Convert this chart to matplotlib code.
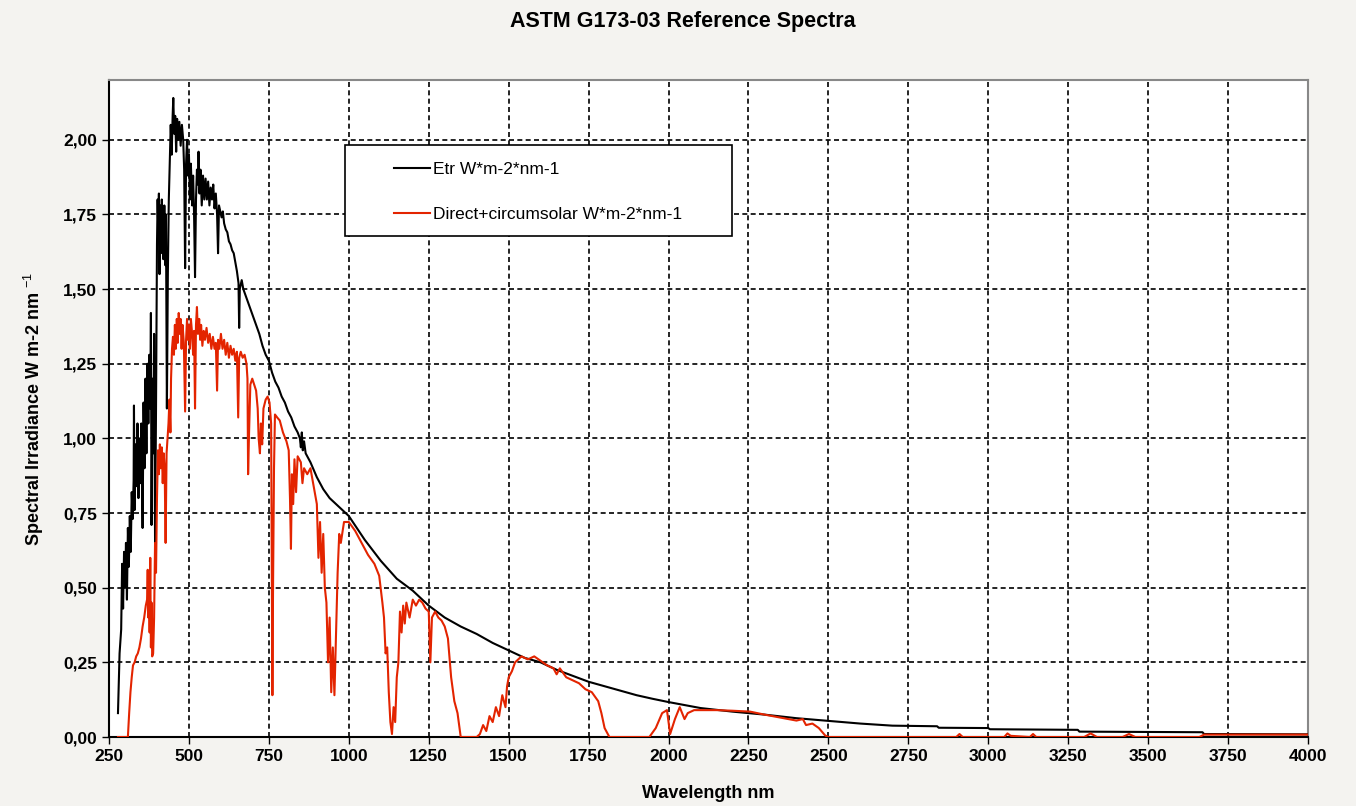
import numpy as np
import matplotlib
matplotlib.use('Agg')
import matplotlib.pyplot as plt
from matplotlib.patches import Rectangle

plt.rcParams['font.family'] = ['Liberation Sans', 'DejaVu Sans']
plt.rcParams['mathtext.fontset'] = 'custom'
plt.rcParams['mathtext.rm'] = 'Liberation Sans'
plt.rcParams['mathtext.bf'] = 'Liberation Sans:bold'

# Etr (extraterrestrial) spectrum
etr_wl = [278, 283, 288, 291, 294, 297, 300, 303, 306, 309, 312, 315, 318, 321, 324,
          327, 328, 330, 333, 336, 339, 342, 345, 348, 351, 355, 358, 361, 364, 367,
          370, 373, 376, 379, 381, 383, 386, 389, 391, 394, 397, 400, 402, 404, 406,
          408, 410, 412, 415, 418, 420, 423, 426, 428, 431, 434, 437, 440, 443, 446,
          449, 451, 454, 457, 460, 463, 466, 470, 474, 478, 482, 485, 488, 491, 494,
          497, 500, 503, 506, 510, 513, 516, 519, 522, 525, 528, 530, 533, 536, 540,
          544, 548, 552, 556, 560, 564, 568, 572, 576, 580, 584, 588, 591, 594, 598,
          602, 606, 610, 615, 620, 625, 630, 635, 640, 645, 650, 655, 657, 659, 665,
          670, 680, 690, 700, 710, 720, 730, 740, 750, 760, 770, 780, 790, 800, 810,
          820, 830, 840, 847, 850, 853, 856, 860, 865, 870, 880, 900, 920, 940, 960,
          980, 1000, 1050, 1100, 1150, 1200, 1250, 1300, 1350, 1400, 1450, 1500,
          1550, 1600, 1650, 1700, 1750, 1800, 1850, 1900, 1950, 2000, 2100, 2200,
          2300, 2400, 2500, 2600, 2700, 2840, 2845, 3000, 3005, 3280, 3285, 3670,
          3675, 4000]
etr_val = [0.08, 0.28, 0.36, 0.58, 0.43, 0.62, 0.50, 0.65, 0.46, 0.70, 0.57, 0.74, 0.62, 0.82, 0.73,
           0.86, 1.11, 0.76, 0.98, 0.84, 1.05, 0.80, 1.00, 0.85, 1.05, 0.70, 1.12, 0.90, 1.20, 0.95,
           1.25, 1.05, 1.28, 1.10, 1.42, 0.71, 1.20, 0.95, 1.35, 0.65, 1.10, 1.65, 1.80, 1.70, 1.82,
           1.55, 1.78, 1.62, 1.80, 1.72, 1.60, 1.78, 1.58, 1.75, 1.10, 1.55, 1.80, 1.92, 2.05, 1.95,
           2.08, 2.14, 2.02, 2.08, 1.96, 2.07, 2.00, 2.06, 1.98, 2.05, 2.00, 1.90, 1.57, 1.92, 2.00,
           1.88, 1.95, 1.80, 1.92, 1.78, 1.88, 1.75, 1.54, 1.80, 1.90, 1.85, 1.96, 1.82, 1.90, 1.78,
           1.88, 1.80, 1.87, 1.80, 1.86, 1.78, 1.84, 1.80, 1.85, 1.77, 1.82, 1.75, 1.62, 1.78, 1.76,
           1.74, 1.76, 1.72, 1.70, 1.69, 1.66, 1.65, 1.63, 1.62, 1.59, 1.56, 1.52, 1.37, 1.50, 1.53,
           1.50, 1.47, 1.44, 1.41, 1.38, 1.35, 1.31, 1.28, 1.26, 1.22, 1.19, 1.17, 1.14, 1.12, 1.09,
           1.07, 1.04, 1.02, 1.00, 0.97, 1.02, 0.96, 0.99, 0.95, 0.94, 0.92, 0.87, 0.83, 0.80, 0.78,
           0.76, 0.74, 0.66, 0.59, 0.53, 0.49, 0.44, 0.40, 0.37, 0.345, 0.315, 0.29,
           0.265, 0.25, 0.225, 0.205, 0.185, 0.17, 0.155, 0.14, 0.128, 0.117, 0.097, 0.085,
           0.075, 0.063, 0.054, 0.045, 0.038, 0.036, 0.031, 0.030, 0.026, 0.024, 0.018, 0.016,
           0.010, 0.009]

# Direct + circumsolar spectrum
dir_wl = [278, 305, 309, 313, 317, 321, 325, 330, 335, 340, 345, 350, 355, 360, 365,
          369, 371, 373, 375, 377, 379, 381, 383, 385, 388, 391, 394, 397, 400, 403,
          406, 409, 412, 415, 418, 421, 424, 427, 430, 433, 436, 439, 442, 444, 447,
          450, 453, 456, 459, 462, 465, 468, 471, 474, 477, 480, 484, 488, 491, 494,
          497, 500, 503, 506, 510, 513, 516, 519, 522, 525, 528, 532, 535, 538, 542,
          546, 550, 555, 560, 565, 570, 575, 580, 584, 588, 591, 595, 600, 605, 610,
          615, 620, 625, 630, 635, 640, 645, 650, 654, 657, 662, 668, 674, 680, 683,
          685, 688, 692, 698, 704, 710, 715, 718, 722, 725, 729, 733, 740, 746, 752,
          757, 759, 761, 763, 766, 769, 776, 784, 794, 805, 812, 816, 819, 822, 826,
          830, 835, 840, 850, 855, 860, 870, 880, 890, 900, 905, 910, 915, 920, 925,
          930, 935, 940, 945, 950, 955, 960, 965, 970, 975, 985, 1000, 1020, 1040,
          1060, 1080, 1095, 1105, 1110, 1115, 1120, 1125, 1130, 1135, 1140, 1145,
          1150, 1155, 1160, 1165, 1170, 1175, 1180, 1190, 1200, 1210, 1220, 1230,
          1240, 1250, 1255, 1260, 1270, 1280, 1290, 1300, 1310, 1320, 1330, 1340,
          1350, 1400, 1410, 1420, 1430, 1440, 1450, 1460, 1470, 1480, 1490, 1495,
          1500, 1510, 1520, 1530, 1540, 1560, 1580, 1600, 1620, 1640, 1650, 1660,
          1680, 1700, 1720, 1740, 1760, 1780, 1790, 1800, 1815, 1940, 1960, 1980,
          1995, 2005, 2020, 2035, 2050, 2060, 2080, 2150, 2200, 2255, 2300, 2350,
          2400, 2420, 2430, 2450, 2470, 2490, 2500, 2900, 2910, 2920, 3050, 3060,
          3070, 3130, 3140, 3150, 3300, 3320, 3340, 3420, 3440, 3460, 3660, 3675, 4000]
dir_val = [0.0, 0.0, 0.0, 0.08, 0.15, 0.20, 0.24, 0.25, 0.27, 0.28, 0.30, 0.33, 0.37, 0.40, 0.44,
           0.46, 0.56, 0.40, 0.52, 0.35, 0.60, 0.30, 0.45, 0.27, 0.28, 0.40, 0.65, 0.55, 0.80, 0.96,
           0.88, 0.98, 0.90, 0.97, 0.85, 0.95, 0.90, 0.65, 0.95, 1.00, 1.05, 1.13, 1.02, 1.20, 1.30,
           1.34, 1.28, 1.38, 1.30, 1.40, 1.32, 1.42, 1.35, 1.40, 1.30, 1.38, 1.32, 1.09, 1.33, 1.40,
           1.33, 1.38, 1.30, 1.40, 1.35, 1.28, 1.36, 1.10, 1.38, 1.44, 1.35, 1.40, 1.33, 1.38, 1.31,
           1.36, 1.33, 1.37, 1.32, 1.35, 1.30, 1.34, 1.30, 1.32, 1.16, 1.33, 1.30, 1.35, 1.30, 1.33,
           1.28, 1.32, 1.27, 1.31, 1.28, 1.30, 1.26, 1.29, 1.07, 1.27, 1.29, 1.27, 1.28, 1.25, 1.20,
           0.88, 1.02, 1.18, 1.20, 1.18, 1.16, 1.10, 1.00, 0.95, 1.05, 0.98, 1.10, 1.13, 1.14, 1.12,
           1.05, 0.60, 0.14, 0.50, 0.90, 1.08, 1.07, 1.06, 1.02, 0.99, 0.96, 0.80, 0.63, 0.88, 0.78,
           0.93, 0.82, 0.94, 0.92, 0.85, 0.90, 0.88, 0.90, 0.84, 0.78, 0.60, 0.72, 0.55, 0.68, 0.50,
           0.45, 0.25, 0.40, 0.15, 0.30, 0.14, 0.35, 0.55, 0.68, 0.65, 0.72, 0.72, 0.69, 0.65,
           0.61, 0.58, 0.54, 0.45, 0.40, 0.28, 0.30, 0.15, 0.05, 0.01, 0.10, 0.05,
           0.20, 0.25, 0.42, 0.35, 0.44, 0.38, 0.45, 0.40, 0.46, 0.44, 0.46, 0.45,
           0.43, 0.42, 0.25, 0.40, 0.42, 0.40, 0.39, 0.37, 0.33, 0.20, 0.12, 0.08,
           0.0, 0.0, 0.01, 0.04, 0.02, 0.07, 0.05, 0.10, 0.07, 0.14, 0.10, 0.17,
           0.20, 0.22, 0.25, 0.26, 0.27, 0.26, 0.27, 0.255, 0.24, 0.23, 0.21, 0.23,
           0.20, 0.19, 0.18, 0.16, 0.15, 0.12, 0.08, 0.03, 0.0, 0.0, 0.03, 0.08,
           0.09, 0.01, 0.06, 0.10, 0.06, 0.08, 0.09, 0.09, 0.088, 0.085, 0.075, 0.065,
           0.055, 0.06, 0.04, 0.045, 0.03, 0.005, 0.0, 0.0, 0.01, 0.0, 0.0, 0.012,
           0.004, 0.0, 0.01, 0.0, 0.0, 0.012, 0.0, 0.0, 0.01, 0.0, 0.0, 0.008, 0.008]

x_ticks = [250, 500, 750, 1000, 1250, 1500, 1750, 2000, 2250, 2500, 2750, 3000, 3250, 3500, 3750, 4000]
y_ticks = [0.0, 0.25, 0.5, 0.75, 1.0, 1.25, 1.5, 1.75, 2.0]
y_ticklabels = ['0,00', '0,25', '0,50', '0,75', '1,00', '1,25', '1,50', '1,75', '2,00']

fig = plt.figure(figsize=(13.56, 8.06), dpi=100, facecolor='#f4f3f0')
ax = fig.add_axes([0.0804, 0.0856, 0.8842, 0.8151])
ax.set_facecolor('white')

ax.plot(etr_wl, etr_val, color='black', lw=1.5, label='Etr W*m-2*nm-1', zorder=3)
ax.plot(dir_wl, dir_val, color='#e32400', lw=1.5, label='Direct+circumsolar W*m-2*nm-1', zorder=4)

ax.set_xlim(250, 4000)
ax.set_ylim(0, 2.2)
ax.set_xticks(x_ticks)
ax.set_yticks(y_ticks)
ax.set_yticklabels(y_ticklabels)
ax.tick_params(axis='both', direction='out', length=5, width=1, labelsize=12.5)
for lab in ax.get_xticklabels() + ax.get_yticklabels():
    lab.set_fontweight('bold')

ax.grid(True, color='black', linestyle=(0, (3, 2)), linewidth=1.2, zorder=1)
ax.set_axisbelow(True)

for side in ['left', 'bottom']:
    ax.spines[side].set_color('black')
    ax.spines[side].set_linewidth(1.5)
for side in ['top', 'right']:
    ax.spines[side].set_color('#888888')
    ax.spines[side].set_linewidth(1.5)

fig.text(0.5037, 1 - 22 / 806, 'ASTM G173-03 Reference Spectra', ha='center', va='center',
         fontsize=15.5, fontweight='bold')
ax.set_xlabel('Wavelength nm', fontsize=13, fontweight='bold', labelpad=15)
ax.set_ylabel(r'Spectral Irradiance W m-2 nm $^{\mathrm{-1}}$', fontsize=13, fontweight='bold', labelpad=12)

# legend box drawn by hand, entries placed inside it
ax.add_patch(Rectangle((0.197, 0.7626), 0.3228, 0.1385, transform=ax.transAxes,
                       facecolor='white', edgecolor='black', lw=1.2, zorder=5))
leg = ax.legend(loc='upper left', bbox_to_anchor=(0.2377, 0.876), frameon=False,
                fontsize=12.5, labelspacing=1.75, handlelength=2.1, handletextpad=0.15,
                borderpad=0, borderaxespad=0)
leg.set_zorder(6)

fig.savefig('out.png', dpi=100, facecolor=fig.get_facecolor())
